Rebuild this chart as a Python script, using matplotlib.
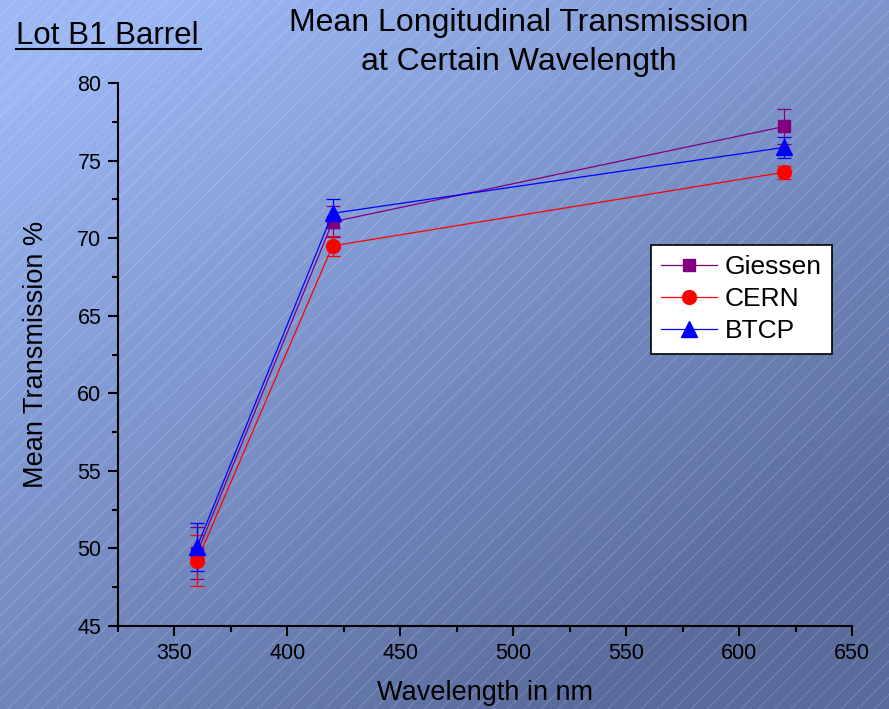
import numpy as np
import matplotlib.pyplot as plt
from matplotlib.patches import Rectangle
from matplotlib.lines import Line2D
from matplotlib.ticker import MultipleLocator

plt.rcParams['font.family'] = ['Liberation Sans', 'DejaVu Sans']
plt.rcParams['hatch.linewidth'] = 0.6

# --- data ---
wavelength = [360, 420, 620]
series = ["Giessen", "CERN", "BTCP"]
giessen = [49.7, 71.05, 77.2]
giessen_err = [1.65, 1.0, 1.1]
cern = [49.2, 69.5, 74.25]
cern_err = [1.65, 0.65, 0.43]
btcp = [50.1, 71.6, 75.85]
btcp_err = [1.55, 0.95, 0.68]

fig = plt.figure(figsize=(8.89, 7.09), dpi=100)

# --- background gradient + hatch lines ---
bg = fig.add_axes([0, 0, 1, 1], zorder=-10)
bg.set_axis_off()
yy, xx = np.mgrid[0:1:200j, 0:1:200j]
t = np.clip(0.55 * xx + 0.75 * yy - 0.1, 0, 1)
c0 = np.array([0.61, 0.72, 0.96])
c1 = np.array([0.35, 0.42, 0.61])
img = c0[None, None, :] * (1 - t[..., None]) + c1[None, None, :] * t[..., None]
bg.imshow(img, extent=[0, 1, 0, 1], origin='upper', aspect='auto')
bg.add_patch(Rectangle((0, 0), 1, 1, transform=bg.transAxes, facecolor='none',
                       edgecolor=(1, 1, 1, 0.22), hatch='//', linewidth=0))
bg.set_xlim(0, 1)
bg.set_ylim(0, 1)

# --- main axes ---
ax = fig.add_axes([0.1327, 0.1171, 0.8257, 0.7658])
ax.patch.set_alpha(0)

styles = [
    (giessen, giessen_err, '#800080', 's', 9),
    (cern, cern_err, '#ff0000', 'o', 10),
    (btcp, btcp_err, '#0000ff', '^', 11),
]
handles = []
for name, (vals, errs, col, mk, ms) in zip(series, styles):
    ax.errorbar(wavelength, vals, yerr=errs, color=col, marker=mk, markersize=ms,
                linewidth=0.9, elinewidth=0.9, capsize=5, capthick=0.9)
    handles.append(Line2D([], [], color=col, marker=mk, markersize=ms, linewidth=0.9, label=name))

ax.set_xlim(325, 650)
ax.set_ylim(45, 80)
ax.xaxis.set_major_locator(MultipleLocator(50))
ax.xaxis.set_minor_locator(MultipleLocator(25))
ax.yaxis.set_major_locator(MultipleLocator(5))
ax.yaxis.set_minor_locator(MultipleLocator(2.5))
ax.tick_params(which='major', direction='out', length=7, width=1.5, labelsize=15.5,
               colors='black', pad=5)
ax.tick_params(which='minor', direction='out', length=4, width=1.5)
for s in ['top', 'right']:
    ax.spines[s].set_visible(False)
for s in ['left', 'bottom']:
    ax.spines[s].set_linewidth(1.5)

ax.set_xlabel("Wavelength in nm", fontsize=19.5, labelpad=12)
ax.set_ylabel("Mean Transmission %", fontsize=19.5, labelpad=20)

leg = ax.legend(handles=handles, loc='upper left', bbox_to_anchor=(0.726, 0.702),
                fontsize=19, frameon=True, fancybox=False, framealpha=1,
                edgecolor='black', handlelength=2.1, borderpad=0.4,
                labelspacing=0.3, handletextpad=0.3, borderaxespad=0)
leg.get_frame().set_linewidth(1.2)

fig.text(0.584, 0.940, "Mean Longitudinal Transmission\nat Certain Wavelength",
         ha='center', va='center', fontsize=23, linespacing=1.4)
fig.text(16 / 889, 1 - 36 / 709, "Lot B1 Barrel", ha='left', va='center', fontsize=22.5)
fig.add_artist(Line2D([16 / 889, 201 / 889], [1 - 49 / 709, 1 - 49 / 709],
                      color='black', linewidth=1.5, transform=fig.transFigure))

fig.savefig("out.png", dpi=100)
